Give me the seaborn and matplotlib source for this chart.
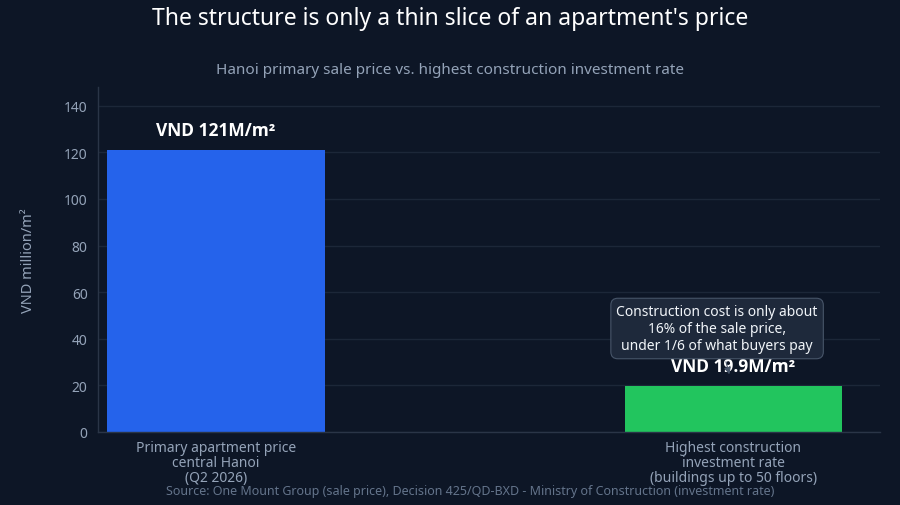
import numpy as np
import pandas as pd
import matplotlib
matplotlib.use("Agg")
import matplotlib.pyplot as plt
import seaborn as sns

# data
categories = ["Primary apartment price\ncentral Hanoi\n(Q2 2026)",
              "Highest construction\ninvestment rate\n(buildings up to 50 floors)"]
values = [121, 19.9]
value_labels = ["VND 121M/m²", "VND 19.9M/m²"]
bar_colors = ["#2563eb", "#22c55e"]
y_ticks = [0, 20, 40, 60, 80, 100, 120, 140]

bg = "#0d1626"
grid_c = "#1c2738"
tick_c = "#94a3b8"

sns.set_theme(style="dark")
plt.rcParams["font.family"] = ["Noto Sans", "DejaVu Sans"]

df = pd.DataFrame({"category": categories, "value": values})

fig = plt.figure(figsize=(9, 5.06), dpi=100, facecolor=bg)
ax = fig.add_axes([98 / 900, 1 - 433 / 506, (880 - 98) / 900, (433 - 88) / 506])
ax.set_facecolor(bg)

sns.barplot(data=df, x="category", y="value", hue="category", palette=bar_colors,
            width=0.42, legend=False, ax=ax, saturation=1, linewidth=0, edgecolor="none")

ax.set_xlim(-0.228, 1.284)
ax.set_ylim(0, 148)
ax.set_yticks(y_ticks)
ax.grid(axis="y", color=grid_c, linewidth=1)
ax.grid(axis="x", visible=False)
ax.set_axisbelow(True)
for s in ["top", "right"]:
    ax.spines[s].set_visible(False)
for s in ["left", "bottom"]:
    ax.spines[s].set_color("#2a3547")
    ax.spines[s].set_linewidth(1)
ax.tick_params(axis="both", colors=tick_c, labelsize=10, length=4, color="#2a3547")
ax.tick_params(axis="x", pad=2)
ax.set_xlabel("")
ax.set_ylabel("VND million/m²", color=tick_c, fontsize=10.5, labelpad=20)
for lab in ax.get_xticklabels():
    lab.set_linespacing(1.0)

for i, (v, t) in enumerate(zip(values, value_labels)):
    ax.annotate(t, (i, v), xytext=(0, 8), textcoords="offset points",
                ha="center", va="bottom", color="white", fontsize=12.5, fontweight="bold",
                family=["Open Sans", "Noto Sans", "DejaVu Sans"])

ax.annotate("Construction cost is only about\n16% of the sale price,\nunder 1/6 of what buyers pay",
            xy=(0.994, 23.6), xytext=(0.969, 44.4), ha="center", va="center",
            color="#f1f5f9", fontsize=10, linespacing=1.2,
            bbox=dict(boxstyle="round,pad=0.4,rounding_size=0.5", fc="#1e293b", ec="#475569", lw=0.8),
            arrowprops=dict(arrowstyle="-|>", color="#475569", lw=0.8))

fig.text(0.5, 1 - 19 / 506, "The structure is only a thin slice of an apartment's price",
         ha="center", va="center", color="white", fontsize=16.5)
fig.text(0.5, 1 - 71 / 506, "Hanoi primary sale price vs. highest construction investment rate",
         ha="center", va="center", color=tick_c, fontsize=11)
fig.text(470 / 900, 1 - 492 / 506,
         "Source: One Mount Group (sale price), Decision 425/QD-BXD - Ministry of Construction (investment rate)",
         ha="center", va="center", color="#64748b", fontsize=9)

fig.savefig("out.png", dpi=100, facecolor=bg)
